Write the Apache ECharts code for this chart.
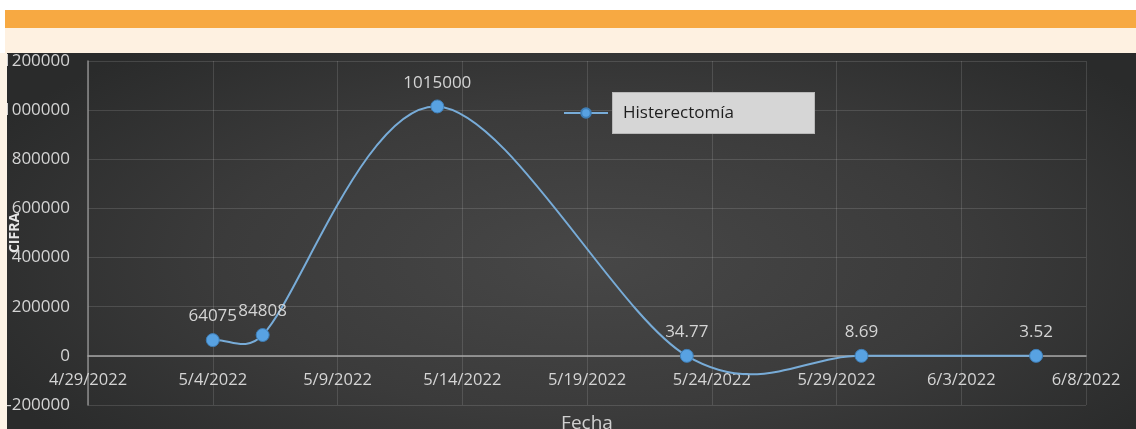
<!DOCTYPE html>
<html>
<head>
<meta charset="utf-8">
<script src="https://cdn.jsdelivr.net/npm/echarts@6/dist/echarts.min.js"></script>
<style>
  html, body { margin: 0; padding: 0; background: #ffffff; width: 1136px; height: 429px; overflow: hidden; }
  #orange { position: absolute; left: 5px; top: 10px; width: 1131px; height: 18px; background: #f7a942; }
  #cream { position: absolute; left: 5px; top: 28px; width: 1131px; height: 25px; background: #fef1e1; }
  #leftstrip { position: absolute; left: 0; top: 53px; width: 7px; height: 376px; background: #fdf3e6; }
  #chart { position: absolute; left: 7px; top: 53px; width: 1129px; height: 376px;
    background: radial-gradient(ellipse 60% 75% at 52% 55%, #474747 0%, #3b3b3b 55%, #2a2b2b 100%); }
</style>
</head>
<body>
<div id="orange"></div>
<div id="cream"></div>
<div id="leftstrip"></div>
<div id="chart"></div>
<script>
// ---- data ----
const seriesName = 'Histerectomía';
const dates = ['2022-05-04', '2022-05-06', '2022-05-13', '2022-05-23', '2022-05-30', '2022-06-06'];
const values = [64075, 84808, 1015000, 34.77, 8.69, 3.52];
const xAxisStart = '2022-04-29';
const xAxisEnd = '2022-06-08';
const xTickDays = 5;
const yMin = -200000, yMax = 1200000, yStep = 200000;
const xTitle = 'Fecha';
const yTitle = 'CIFRA';

// ---- helpers ----
const DAY = 86400000;
function toUTC(s) { const p = s.split('-').map(Number); return Date.UTC(p[0], p[1] - 1, p[2]); }
const base = toUTC(xAxisStart);
function dayOffset(s) { return Math.round((toUTC(s) - base) / DAY); }
function fmtDay(d) {
  const dt = new Date(base + d * DAY);
  return (dt.getUTCMonth() + 1) + '/' + dt.getUTCDate() + '/' + dt.getUTCFullYear();
}
const points = dates.map((d, i) => [dayOffset(d), values[i]]);

// Spreadsheet-style smoothed curve (Bezier, Catmull-Rom tangents with limited arms),
// computed in pixel space from the library's coordinate conversion.
function smoothPath(P) {
  const n = P.length;
  const dist = (a, b) => Math.hypot(b[0] - a[0], b[1] - a[1]);
  let d = 'M' + P[0][0] + ',' + P[0][1];
  for (let i = 0; i < n - 1; i++) {
    const a = P[i], b = P[i + 1];
    const seg = dist(a, b);
    let c1, c2;
    if (i === 0) {
      c1 = [a[0] + (b[0] - a[0]) / 3, a[1] + (b[1] - a[1]) / 3];
    } else {
      const v = [b[0] - P[i - 1][0], b[1] - P[i - 1][1]];
      const lv = Math.hypot(v[0], v[1]) || 1;
      const arm = Math.min(lv / 6, seg / 2);
      c1 = [a[0] + v[0] / lv * arm, a[1] + v[1] / lv * arm];
    }
    if (i === n - 2) {
      c2 = [b[0] - (b[0] - a[0]) / 3, b[1] - (b[1] - a[1]) / 3];
    } else {
      const v = [P[i + 2][0] - a[0], P[i + 2][1] - a[1]];
      const lv = Math.hypot(v[0], v[1]) || 1;
      const arm = Math.min(lv / 6, seg / 2);
      c2 = [b[0] - v[0] / lv * arm, b[1] - v[1] / lv * arm];
    }
    d += ' C' + c1[0] + ',' + c1[1] + ' ' + c2[0] + ',' + c2[1] + ' ' + b[0] + ',' + b[1];
  }
  return d;
}

const lineColor = '#78acd8';
const chart = echarts.init(document.getElementById('chart'), null, { renderer: 'canvas' });
const font = "'Open Sans', 'DejaVu Sans', sans-serif";
chart.setOption({
  backgroundColor: 'transparent',
  animation: false,
  textStyle: { fontFamily: font },
  grid: { left: 81, right: 50, top: 8, bottom: 24, outerBoundsMode: 'none' },
  legend: {
    data: [seriesName],
    left: 551, top: 34,
    itemWidth: 44, itemHeight: 12,
    lineStyle: { color: lineColor, width: 2, opacity: 1 },
    textStyle: {
      color: '#1e1e1e', fontSize: 17, fontFamily: font,
      backgroundColor: '#d6d6d6', borderColor: '#b8b8b8', borderWidth: 1,
      width: 181, height: 22, lineHeight: 22, padding: [9, 10], align: 'center'
    }
  },
  xAxis: {
    type: 'value',
    min: dayOffset(xAxisStart), max: dayOffset(xAxisEnd), interval: xTickDays,
    name: xTitle, nameLocation: 'middle', nameGap: 9, nameMoveOverlap: false,
    nameTextStyle: { color: '#cfcfcf', fontSize: 19, fontFamily: font },
    axisLine: { onZero: true, lineStyle: { color: '#a6a6a6', width: 1.5 } },
    axisTick: { show: false },
    axisLabel: { color: '#d4d4d4', fontSize: 16.5, margin: -33, formatter: v => fmtDay(v) },
    splitLine: { show: true, lineStyle: { color: 'rgba(255,255,255,0.13)', width: 1 } }
  },
  yAxis: {
    type: 'value',
    min: yMin, max: yMax, interval: yStep,
    name: yTitle, nameLocation: 'middle', nameGap: 66, nameRotate: 90, nameMoveOverlap: false,
    nameTextStyle: { color: '#e6e6e6', fontSize: 14, fontWeight: 'bold', fontFamily: font },
    axisLine: { show: true, lineStyle: { color: '#8c8c8c', width: 1.5 } },
    axisTick: { show: false },
    axisLabel: { color: '#d4d4d4', fontSize: 17, margin: 18, formatter: v => String(v) },
    splitLine: { show: true, lineStyle: { color: 'rgba(255,255,255,0.13)', width: 1 } }
  },
  series: [{
    name: '_curve',
    type: 'custom',
    data: points,
    silent: true,
    z: 1,
    renderItem: (params, api) => {
      if (params.dataIndex !== 0) return null;
      const px = points.map(p => api.coord(p));
      return {
        type: 'path',
        shape: { pathData: smoothPath(px) },
        style: { fill: 'none', stroke: lineColor, lineWidth: 2 }
      };
    }
  }, {
    name: seriesName,
    type: 'line',
    data: points,
    z: 3,
    symbol: 'circle',
    symbolSize: 13,
    itemStyle: { color: '#58a2e2', borderColor: '#3f7fb8', borderWidth: 1 },
    lineStyle: { opacity: 0, width: 0 },
    label: {
      show: true, position: 'top', distance: 8,
      color: '#d4d4d4', fontSize: 17, fontFamily: font,
      formatter: p => String(p.value[1])
    }
  }]
});
</script>
</body>
</html>
